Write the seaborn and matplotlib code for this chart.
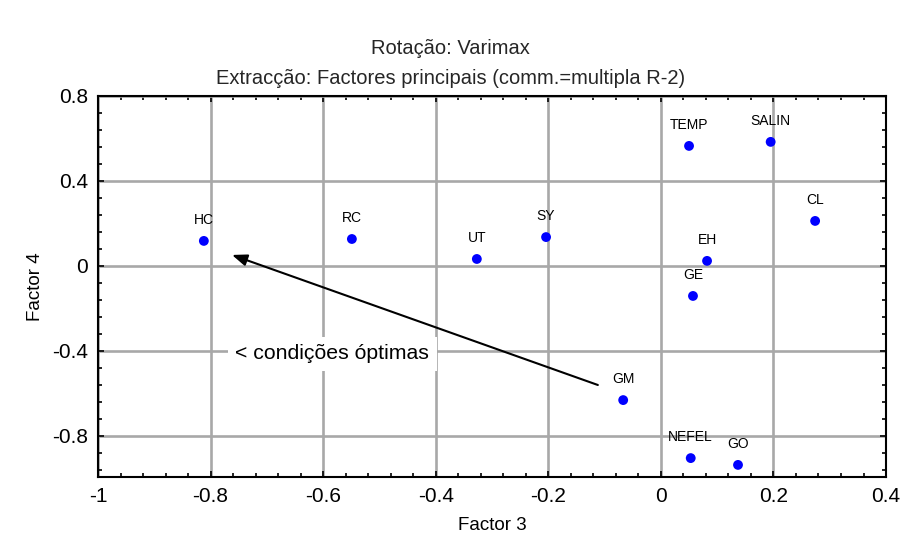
import matplotlib
matplotlib.use("Agg")
import matplotlib.pyplot as plt
import seaborn as sns
import pandas as pd
import numpy as np
from matplotlib.ticker import MultipleLocator, FuncFormatter

labels = ["HC", "RC", "UT", "SY", "TEMP", "SALIN", "CL", "EH", "GE", "GM", "NEFEL", "GO"]
factor3 = [-0.812, -0.549, -0.327, -0.204, 0.050, 0.195, 0.274, 0.082, 0.057, -0.067, 0.053, 0.137]
factor4 = [0.118, 0.127, 0.033, 0.136, 0.565, 0.584, 0.212, 0.024, -0.141, -0.631, -0.904, -0.936]

title_lines = ["Rotação: Varimax", "Extracção: Factores principais (comm.=multipla R-2)"]
annotation_text = "< condições óptimas"
arrow_tail = (-0.112, -0.56)
arrow_head = (-0.762, 0.052)

sns.set_style("ticks")
plt.rcParams["font.family"] = ["Liberation Sans", "DejaVu Sans"]

df = pd.DataFrame({"label": labels, "Factor 3": factor3, "Factor 4": factor4})

fig = plt.figure(figsize=(9.01, 5.50), dpi=100)
ax = fig.add_axes([0.1088, 0.1327, 0.8746, 0.6928])

ax.set_xlim(-1.0, 0.4)
ax.set_ylim(-0.993, 0.8)

ax.xaxis.set_major_locator(MultipleLocator(0.2))
ax.xaxis.set_minor_locator(MultipleLocator(0.04))
ax.yaxis.set_major_locator(MultipleLocator(0.4))
ax.yaxis.set_minor_locator(MultipleLocator(0.08))

def fmt(v, pos):
    s = f"{v:.1f}"
    if s in ("-0.0", "0.0"):
        return "0"
    if s.endswith(".0"):
        s = s[:-2]
    return s
ax.xaxis.set_major_formatter(FuncFormatter(fmt))
ax.yaxis.set_major_formatter(FuncFormatter(fmt))

ax.grid(True, which="major", color="#a8a8a8", linewidth=1.9)
ax.set_axisbelow(True)

sns.scatterplot(data=df, x="Factor 3", y="Factor 4", ax=ax, color="#0000ff",
                s=50, edgecolor="none", zorder=3, legend=False)

for lab, x, y in zip(labels, factor3, factor4):
    ax.annotate(lab, (x, y), xytext=(0, 10), textcoords="offset points",
                ha="center", va="bottom", fontsize=10, color="black", zorder=4)

ax.annotate("", xy=arrow_head, xytext=arrow_tail,
            arrowprops=dict(arrowstyle="-|>,head_length=0.9,head_width=0.35",
                            color="black", lw=1.5, shrinkA=0, shrinkB=0), zorder=5)

ax.text(-0.584, -0.414, annotation_text, ha="center", va="center", fontsize=15.3,
        color="black", zorder=6,
        bbox=dict(boxstyle="square,pad=0.35", facecolor="white", edgecolor="none"))

for sp in ax.spines.values():
    sp.set_visible(True)
    sp.set_linewidth(1.5)
    sp.set_color("black")

ax.tick_params(which="both", direction="in", top=True, right=True, color="black",
               width=1.2, labelsize=15, pad=7, labelcolor="black")
ax.tick_params(which="major", length=4)
ax.tick_params(which="minor", length=3)

ax.set_xlabel("Factor 3", fontsize=13.5, labelpad=8, color="black")
ax.set_ylabel("Factor 4", fontsize=13.5, labelpad=6, color="black")

fig.text(0.5, 1 - 48 / 550, title_lines[0], ha="center", va="center", fontsize=14.5)
fig.text(0.5, 1 - 78 / 550, title_lines[1], ha="center", va="center", fontsize=14.5)

fig.savefig("out.png", dpi=100)
